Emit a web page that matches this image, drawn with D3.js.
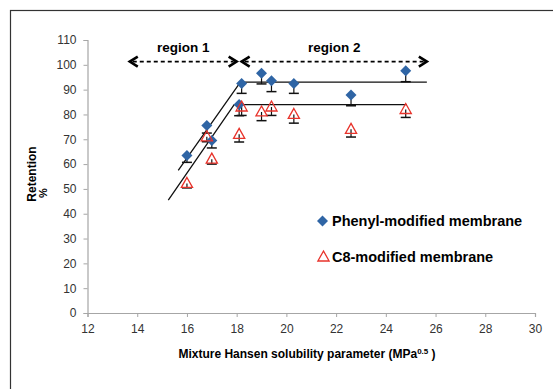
<!DOCTYPE html>
<html>
<head>
<meta charset="utf-8">
<script src="https://cdn.jsdelivr.net/npm/d3@7"></script>
<style>
  body { margin: 0; background: #fff; }
  svg { display: block; font-family: "Liberation Sans", Arial, sans-serif; }
</style>
</head>
<body>
<svg id="chart" width="553" height="389"></svg>
<script>
// solubility parameter (MPa^0.5)
const phenylX = [16.0, 16.8, 17.0, 18.1, 18.2, 19.0, 19.4, 20.3, 22.6, 24.8];
const phenylY = [63.5, 75.5, 69.5, 84, 92.5, 96.6, 93.6, 92.5, 87.8, 97.6];
const phenylErr = [2.8, 3, 3, 4.5, 4, 4.3, 4.4, 4, 4.3, 4.4];

const c8X = [16.0, 16.8, 17.0, 18.1, 18.2, 19.0, 19.4, 20.3, 22.6, 24.8];
const c8Y = [52.2, 71, 62, 72, 83, 81, 83, 80, 74, 82];
const c8Err = [1.8, 2, 2, 3.1, 3.4, 3.5, 3.4, 3.5, 3.1, 3.2];

// piecewise trend lines
const phenylTrend = [[15.65, 57.5], [18.15, 93], [25.65, 93]];
const c8Trend = [[15.25, 45.5], [17.9, 84], [24.85, 84]];

// region arrows (x from, x to, y)
const region1 = [13.7, 18.0, 101.3];
const region2 = [18.2, 25.65, 101.3];

const xTicks = [12, 14, 16, 18, 20, 22, 24, 26, 28, 30];
const yTicks = [0, 10, 20, 30, 40, 50, 60, 70, 80, 90, 100, 110];

const margin = { left: 87.5, top: 40, right: 18, bottom: 76 };
const width = 553 - margin.left - margin.right;
const height = 389 - margin.top - margin.bottom;

const svg = d3.select("#chart");

// outer frame
svg.append("rect")
  .attr("x", 10.5).attr("y", 10.5)
  .attr("width", 600).attr("height", 500)
  .attr("fill", "none")
  .attr("stroke", "#333")
  .attr("stroke-width", 1.2);

const g = svg.append("g")
  .attr("transform", "translate(" + margin.left + "," + margin.top + ")");

const x = d3.scaleLinear().domain([12, 30]).range([0, width]);
const y = d3.scaleLinear().domain([0, 110]).range([height, 0]);

// X axis
const xAxis = g.append("g")
  .attr("transform", "translate(0," + height + ")")
  .call(d3.axisBottom(x).tickValues(xTicks).tickSize(4).tickPadding(7).tickFormat(d3.format("d")));

// Y axis
const yAxis = g.append("g")
  .call(d3.axisLeft(y).tickValues(yTicks).tickSize(4).tickPadding(7));

[xAxis, yAxis].forEach(a => {
  a.select(".domain").attr("stroke", "#a6a6a6").attr("stroke-width", 1.2);
  a.selectAll(".tick line").attr("stroke", "#a6a6a6");
  a.selectAll(".tick text").attr("fill", "#333").style("font-size", "12px");
});

// trend lines
const line = d3.line().x(d => x(d[0])).y(d => y(d[1]));
[phenylTrend, c8Trend].forEach(t => {
  g.append("path")
    .attr("d", line(t))
    .attr("fill", "none")
    .attr("stroke", "#111")
    .attr("stroke-width", 1.3);
});

// region arrows
function drawArrow(r) {
  const y0 = y(r[2]);
  const x0 = x(r[0]), x1 = x(r[1]);
  g.append("line")
    .attr("x1", x0 + 3).attr("x2", x1 - 3)
    .attr("y1", y0).attr("y2", y0)
    .attr("stroke", "#000")
    .attr("stroke-width", 1.8)
    .attr("stroke-dasharray", "4,3");
  g.append("path")
    .attr("d", `M${x0 + 8},${y0 - 5}L${x0},${y0}L${x0 + 8},${y0 + 5}`)
    .attr("fill", "none").attr("stroke", "#000").attr("stroke-width", 2.6);
  g.append("path")
    .attr("d", `M${x1 - 8},${y0 - 5}L${x1},${y0}L${x1 - 8},${y0 + 5}`)
    .attr("fill", "none").attr("stroke", "#000").attr("stroke-width", 2.6);
}
drawArrow(region1);
drawArrow(region2);

g.append("text")
  .attr("x", x((region1[0] + region1[1]) / 2)).attr("y", y(region1[2]) - 10)
  .attr("text-anchor", "middle")
  .style("font-size", "13.5px").style("font-weight", "bold")
  .text("region  1");
g.append("text")
  .attr("x", x((region2[0] + region2[1]) / 2)).attr("y", y(region2[2]) - 10)
  .attr("text-anchor", "middle")
  .style("font-size", "13.5px").style("font-weight", "bold")
  .text("region 2");

// error bars (minus direction)
function errorBars(xs, ys, es) {
  const eb = g.append("g");
  xs.forEach((xv, i) => {
    const px = x(xv), top = y(ys[i]), bot = y(ys[i] - es[i]);
    eb.append("line").attr("x1", px).attr("x2", px).attr("y1", top).attr("y2", bot)
      .attr("stroke", "#111").attr("stroke-width", 1.2);
    eb.append("line").attr("x1", px - 5).attr("x2", px + 5).attr("y1", bot).attr("y2", bot)
      .attr("stroke", "#111").attr("stroke-width", 1.5);
  });
}
errorBars(phenylX, phenylY, phenylErr);
errorBars(c8X, c8Y, c8Err);

// markers
const diamond = "M0,-5.5L5.5,0L0,5.5L-5.5,0Z";
const tri = "M0,-6L5.6,4L-5.6,4Z";

g.append("g").selectAll("path")
  .data(phenylX.map((d, i) => [d, phenylY[i]]))
  .enter()
  .append("path")
  .attr("d", diamond)
  .attr("transform", d => `translate(${x(d[0])},${y(d[1])})`)
  .attr("fill", "#2f65a5");

g.append("g").selectAll("path")
  .data(c8X.map((d, i) => [d, c8Y[i]]))
  .enter()
  .append("path")
  .attr("d", tri)
  .attr("transform", d => `translate(${x(d[0])},${y(d[1])})`)
  .attr("fill", "none")
  .attr("stroke", "#e8332b")
  .attr("stroke-width", 1.3);

// legend
const legend = svg.append("g");
legend.append("path")
  .attr("d", diamond)
  .attr("transform", "translate(322.5,221)")
  .attr("fill", "#2f65a5");
legend.append("text")
  .attr("x", 332).attr("y", 226)
  .style("font-size", "14.5px").style("font-weight", "bold")
  .text("Phenyl-modified membrane");
legend.append("path")
  .attr("d", tri)
  .attr("transform", "translate(323.5,257)")
  .attr("fill", "none").attr("stroke", "#e8332b").attr("stroke-width", 1.3);
legend.append("text")
  .attr("x", 332).attr("y", 262)
  .style("font-size", "14.5px").style("font-weight", "bold")
  .text("C8-modified membrane");

// axis titles
const xt = svg.append("text")
  .attr("x", 307).attr("y", 358)
  .attr("text-anchor", "middle")
  .style("font-size", "12px").style("font-weight", "bold");
xt.append("tspan").text("Mixture Hansen solubility parameter  (MPa");
xt.append("tspan").attr("dy", -4).style("font-size", "8px").text("0.5");
xt.append("tspan").attr("dy", 4).text(" )");

svg.append("text")
  .attr("transform", "translate(36,174) rotate(-90)")
  .attr("text-anchor", "middle")
  .style("font-size", "12px").style("font-weight", "bold")
  .text("Retention");
svg.append("text")
  .attr("transform", "translate(47,193) rotate(-90)")
  .attr("text-anchor", "middle")
  .style("font-size", "11px").style("font-weight", "bold")
  .text("%");
</script>
</body>
</html>
